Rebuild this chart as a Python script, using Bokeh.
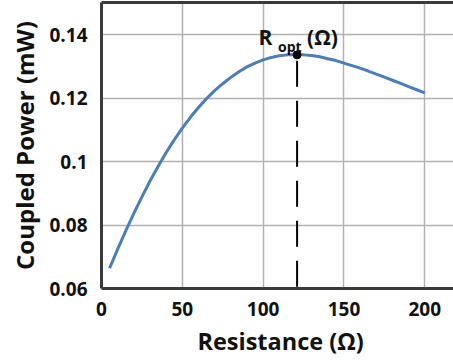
from bokeh.plotting import figure
from bokeh.models import Range1d, FixedTicker, LinearAxis, Label, Title
from bokeh.embed import file_html
from bokeh.resources import INLINE

# ---- data ----
resistance = [5, 10, 15, 20, 25, 30, 35, 40, 45, 50, 55, 60, 65, 70, 75, 80, 85, 90, 95, 100,
              105, 110, 115, 120, 125, 130, 135, 140, 145, 150, 155, 160, 165, 170, 175, 180,
              185, 190, 195, 200]
power = [0.0664, 0.0724, 0.0782, 0.0837, 0.0889, 0.0939, 0.0985, 0.1029, 0.1069, 0.1106,
         0.1140, 0.1171, 0.1199, 0.1224, 0.1246, 0.1266, 0.1284, 0.1299, 0.1311, 0.1321,
         0.1329, 0.1334, 0.1337, 0.1338, 0.1337, 0.1335, 0.1331, 0.1325, 0.1319, 0.1311,
         0.1303, 0.1295, 0.1286, 0.1276, 0.1267, 0.1257, 0.1247, 0.1237, 0.1227, 0.1217]
r_opt = 121
p_opt = 0.1337

x_ticks = [0, 50, 100, 150, 200]
x_tick_labels = ["0", "50", "100", "150", "200"]
y_ticks = [0.06, 0.08, 0.1, 0.12, 0.14]
y_tick_labels = ["0.06", "0.08", "0.1", "0.12", "0.14"]
x_title = "Resistance (Ω)"
y_title = "Coupled Power (mW)"
opt_main = "R"
opt_sub = "opt"
opt_unit = "(Ω)"

# ---- layout ----
FONT = "Open Sans"
W, H = 453, 361
LEFT, TOP, BOTTOM = 100, 2, 73
PX_X = 1.621     # px per ohm
PX_Y = 3170.0    # px per mW
x_lo, y_lo = 0, 0.06
x_hi = x_lo + (W - LEFT) / PX_X
y_hi = y_lo + (H - TOP - BOTTOM) / PX_Y

p = figure(width=W, height=H, output_backend="svg", toolbar_location=None,
           x_range=Range1d(x_lo, x_hi), y_range=Range1d(y_lo, y_hi),
           min_border_left=LEFT, min_border_right=0, min_border_top=TOP,
           min_border_bottom=BOTTOM)
p.outline_line_color = None
p.background_fill_color = "white"
p.border_fill_color = "white"

AX = "#3a3a3a"
TXT = "#111111"
for ax in (p.xaxis[0], p.yaxis[0]):
    ax.axis_line_color = AX
    ax.axis_line_width = 3
    ax.major_tick_line_color = None
    ax.minor_tick_line_color = None
    ax.major_label_text_font = FONT
    ax.major_label_text_font_style = "bold"
    ax.major_label_text_font_size = "19px"
    ax.major_label_text_color = TXT

p.xaxis[0].ticker = FixedTicker(ticks=x_ticks)
p.xaxis[0].major_label_overrides = {t: s for t, s in zip(x_ticks, x_tick_labels)}
p.xaxis[0].major_label_standoff = 7
p.xaxis[0].axis_label = "\u00a0" + x_title
p.xaxis[0].axis_label_text_font = FONT
p.xaxis[0].axis_label_text_font_style = "bold"
p.xaxis[0].axis_label_text_font_size = "23.5px"
p.xaxis[0].axis_label_text_color = TXT
p.xaxis[0].axis_label_standoff = 6

p.yaxis[0].ticker = FixedTicker(ticks=y_ticks)
p.yaxis[0].major_label_overrides = {t: s for t, s in zip(y_ticks, y_tick_labels)}
p.yaxis[0].major_label_standoff = 8

p.add_layout(Title(text=y_title, align="center", offset=-21, standoff=11,
                   text_font=FONT, text_font_style="bold", text_font_size="24px",
                   text_color=TXT), "left")

top_axis = LinearAxis(ticker=FixedTicker(ticks=[]), axis_line_color=AX, axis_line_width=3,
                      major_tick_line_color=None, minor_tick_line_color=None,
                      major_label_text_font_size="0px", major_label_standoff=0)
p.add_layout(top_axis, "above")

p.xgrid.ticker = FixedTicker(ticks=x_ticks)
p.ygrid.ticker = FixedTicker(ticks=y_ticks)
for g in (p.xgrid[0], p.ygrid[0]):
    g.grid_line_color = "#b0b0b0"
    g.grid_line_width = 1.5

# ---- marks ----
p.line(resistance, power, line_width=3, line_color="#4a7ebb")
p.segment(x0=[r_opt], y0=[p_opt], x1=[r_opt], y1=[y_lo], line_color="black",
          line_width=2, line_dash="26 14", line_dash_offset=34)
p.scatter(x=[r_opt], y=[p_opt], size=8, color="black")

# ---- R_opt annotation (positions: pixel distances from the optimum point) ----
def lab(text, dx, dy_up, size):
    p.add_layout(Label(x=r_opt, y=p_opt + dy_up / PX_Y, text=text, x_offset=dx,
                       text_font=FONT, text_font_style="bold", text_font_size=size,
                       text_align="left", text_baseline="alphabetic", text_color=TXT))

lab(opt_main, -38.5, 18, "21px")
lab(opt_sub, -19, 8, "14px")
lab(opt_unit, 10, 18, "21px")

open("out.html", "w").write(file_html(p, INLINE))
